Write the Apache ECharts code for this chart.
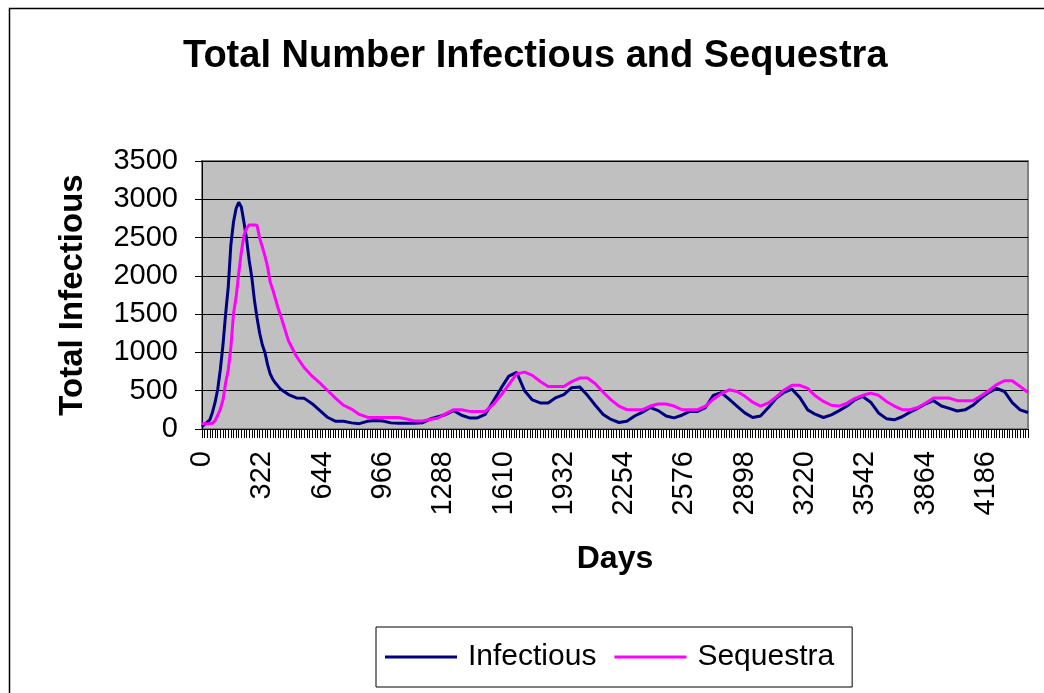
<!DOCTYPE html>
<html>
<head>
<meta charset="utf-8">
<script src="https://cdn.jsdelivr.net/npm/echarts@6/dist/echarts.min.js"></script>
<style>
html,body{margin:0;padding:0;background:#fff;}
#c{width:1044px;height:693px;}
</style>
</head>
<body>
<div id="c"></div>
<script>
// ---- data ----
const dayStep = 14;
const lastDay = 4410;
const xTickLabelEvery = 23; // label every 322 days
const yTicks = [0, 500, 1000, 1500, 2000, 2500, 3000, 3500];

const sampleDays = [
  0,14,28,42,56,70,84,98,112,126,140,154,168,182,196,210,224,238,252,266,280,294,308,322,336,350,364,378,392,406,
  420,462,504,546,588,630,672,714,756,798,840,882,924,966,1008,1050,1092,1134,1176,1218,1260,1302,1344,1386,1428,1470,
  1512,1554,1596,1638,1680,1722,1764,1806,1848,1890,1932,1974,2016,2058,2100,2142,2184,2226,2268,2310,2352,2394,2436,
  2478,2520,2562,2604,2646,2688,2730,2772,2814,2856,2898,2940,2982,3024,3066,3108,3150,3192,3234,3276,3318,3360,3402,
  3444,3486,3528,3570,3612,3654,3696,3738,3780,3822,3864,3906,3948,3990,4032,4074,4116,4158,4200,4242,4284,4326,4368,4410
];

const infectious = [
  30,60,90,120,220,350,520,780,1100,1500,1850,2400,2700,2880,2960,2900,2700,2480,2200,1980,1680,1450,1250,1100,1000,840,720,650,600,560,
  520,450,405,400,330,240,150,100,100,80,70,100,110,105,80,75,75,75,80,130,160,190,240,180,145,145,190,360,530,690,
  740,500,380,340,340,410,450,540,550,440,310,190,125,85,100,170,220,280,240,170,145,180,230,230,280,440,475,390,300,210,
  150,170,280,400,480,520,410,250,190,150,185,240,300,380,425,350,210,135,120,160,220,270,330,370,300,270,235,250,310,400,
  475,530,490,345,250,215
];

const sequestra = [
  70,70,70,70,75,110,180,260,380,600,770,1060,1500,1720,2030,2310,2530,2620,2665,2665,2665,2660,2490,2380,2260,2120,1920,1820,1700,1580,
  1480,1150,950,800,690,600,500,400,310,260,190,155,150,150,150,150,130,105,105,125,143,200,252,252,230,230,230,317,440,580,
  720,743,700,620,556,556,556,620,665,665,590,480,380,300,252,252,252,300,326,326,300,252,252,252,300,390,460,512,490,430,
  350,300,340,420,510,570,570,530,430,360,310,300,339,400,440,469,440,360,300,252,252,280,340,404,404,404,370,369,369,430,
  500,580,630,630,556,477
];

// ---- build ----
const categories = [];
for (let d = 0; d <= lastDay; d += dayStep) categories.push(String(d));

const FONT = '"Liberation Sans", Arial, sans-serif';
const chart = echarts.init(document.getElementById('c'), null, {renderer: 'canvas'});
chart.setOption({
  animation: false,
  backgroundColor: '#ffffff',
  title: {
    text: 'Total Number Infectious and Sequestra',
    left: 178,
    top: 33,
    textStyle: {fontFamily: FONT, fontSize: 38, fontWeight: 'bold', color: '#000'}
  },
  graphic: [{
    type: 'rect',
    shape: {x: 9.5, y: 8.5, width: 1200, height: 900},
    style: {fill: 'none', stroke: '#000', lineWidth: 1.5},
    silent: true, z: -1
  }],
  grid: {
    left: 202, right: 16, top: 161, bottom: 264,
    show: true, backgroundColor: '#C0C0C0', borderColor: '#808080', borderWidth: 2
  },
  legend: {
    left: 376, top: 627,
    orient: 'horizontal',
    data: ['Infectious', 'Sequestra'],
    icon: 'rect',
    itemWidth: 72, itemHeight: 3, itemGap: 18,
    padding: [15, 18, 15, 9],
    borderColor: '#000', borderWidth: 1,
    textStyle: {fontFamily: FONT, fontSize: 30, color: '#000', padding: [0, 0, 0, 6]}
  },
  xAxis: {
    type: 'category',
    data: categories,
    boundaryGap: false,
    name: 'Days',
    nameLocation: 'middle',
    nameGap: 114,
    nameTextStyle: {fontFamily: FONT, fontSize: 32, fontWeight: 'bold', color: '#000'},
    axisLine: {show: true, lineStyle: {color: '#000', width: 1}},
    axisTick: {show: true, interval: 0, length: 9, lineStyle: {color: '#000', width: 1}},
    axisLabel: {
      interval: xTickLabelEvery - 1, rotate: 90, margin: 22,
      fontFamily: FONT, fontSize: 29, color: '#000'
    },
    splitLine: {show: false}
  },
  yAxis: {
    type: 'value',
    min: yTicks[0], max: yTicks[yTicks.length - 1], interval: 500,
    name: 'Total Infectious',
    nameLocation: 'middle',
    nameRotate: 90,
    nameGap: 113,
    nameTextStyle: {fontFamily: FONT, fontSize: 33, fontWeight: 'bold', color: '#000'},
    axisLine: {show: true, lineStyle: {color: '#000', width: 1}},
    axisTick: {show: true, inside: false, length: 7, lineStyle: {color: '#000'}},
    axisLabel: {fontFamily: FONT, fontSize: 29, color: '#000', margin: 24,
      formatter: v => String(v)},
    splitLine: {show: true, lineStyle: {color: '#000', width: 1}}
  },
  series: [
    {
      name: 'Infectious', type: 'line', symbol: 'none',
      lineStyle: {color: '#000080', width: 3}, itemStyle: {color: '#000080'},
      data: sampleDays.map((d, k) => [String(d), infectious[k]])
    },
    {
      name: 'Sequestra', type: 'line', symbol: 'none',
      lineStyle: {color: '#FF00FF', width: 3}, itemStyle: {color: '#FF00FF'},
      data: sampleDays.map((d, k) => [String(d), sequestra[k]])
    }
  ]
});
</script>
</body>
</html>
